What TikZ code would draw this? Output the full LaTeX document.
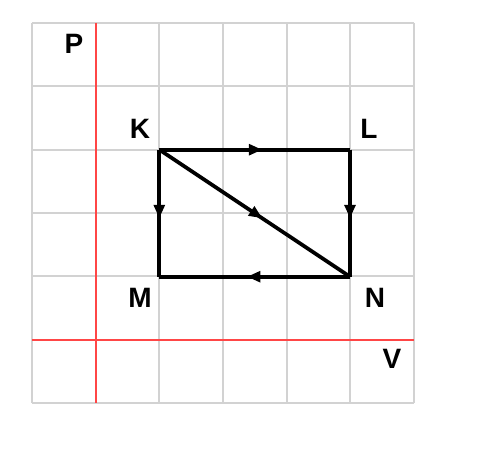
\documentclass[tikz,border=0pt]{standalone}
\usepackage{fontspec}
\setmainfont{Liberation Sans}
\usetikzlibrary{arrows.meta,decorations.markings}
\begin{document}
\begin{tikzpicture}[x=0.75pt,y=-0.75pt,
  gridline/.style={draw={rgb,255:red,210;green,210;blue,210},line width=1.4pt},
  redline/.style={draw={rgb,255:red,255;green,70;blue,70},line width=1.4pt},
  edge/.style={draw=black,line width=2.8pt,
    postaction={decorate},
    decoration={markings,mark=at position 0.54 with {\arrow{Triangle[length=10pt,width=8pt]}}}},
  lbl/.style={font=\bfseries\fontsize{21}{25}\selectfont,inner sep=0pt}]
\useasboundingbox (0,0) rectangle (483,453);
\fill[white] (0,0) rectangle (483,453);
% grid
\foreach \i in {0,2,3,4,5,6} {
  \draw[gridline] ({32+63.67*\i},23) -- ({32+63.67*\i},403);
}
\foreach \i in {0,1,2,3,4,6} {
  \draw[gridline] (32,{23+63.33*\i}) -- (414,{23+63.33*\i});
}
% axes
\draw[redline] (95.7,23) -- (95.7,403);
\draw[redline] (32,339.7) -- (414,339.7);
% points
\coordinate (K) at (159.3,149.7);
\coordinate (L) at (350,149.7);
\coordinate (M) at (159.3,276.7);
\coordinate (N) at (350,276.7);
% edges
\draw[edge] (K) -- (L);
\draw[edge] (K) -- (M);
\draw[edge] (L) -- (N);
\draw[edge] (K) -- (N);
\draw[edge] (N) -- (M);
% labels
\node[lbl] (tP) at (74,44) {P};
\node[lbl] (tK) at (140,129) {K};
\node[lbl] (tL) at (369,129) {L};
\node[lbl] (tM) at (140,298) {M};
\node[lbl] (tN) at (375,298) {N};
\node[lbl] (tV) at (392,359) {V};
\end{tikzpicture}
\end{document}
